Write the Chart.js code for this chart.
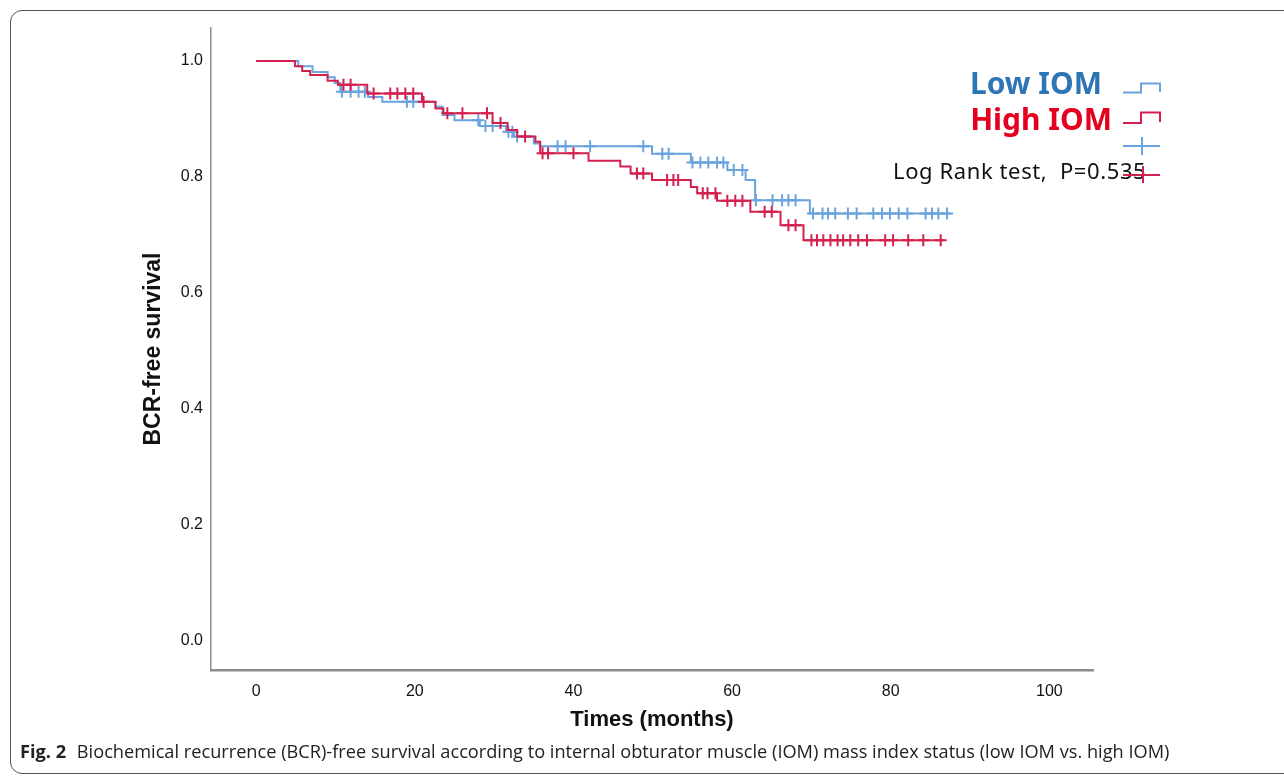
<!DOCTYPE html>
<html>
<head>
<meta charset="utf-8">
<script src="https://cdn.jsdelivr.net/npm/chart.js@4.4.1/dist/chart.umd.min.js"></script>
<style>
  html, body { margin: 0; padding: 0; background: #fff; }
  body { width: 1284px; height: 776px; overflow: hidden; position: relative; font-family: "Noto Sans", sans-serif; }
  #frame { position: absolute; left: 10px; top: 10px; width: 1300px; height: 764px; border: 1.5px solid #555; border-radius: 12px; box-sizing: border-box; }
  #wrap { position: absolute; left: 0; top: 0; width: 1284px; height: 776px; }
  .leg { position: absolute; font-weight: 700; font-size: 30px; line-height: 30px; white-space: nowrap; }
  #lowLab { right: 182px; top: 68px; color: #2e75b6; }
  #highLab { right: 172px; top: 104px; color: #e4001e; }
  #logrank { position: absolute; left: 893px; top: 157px; font-size: 22px; letter-spacing: 0.6px; line-height: 26px; color: #111; white-space: nowrap; }
  #legSym { position: absolute; left: 0; top: 0; }
  #caption { position: absolute; left: 20px; top: 739px; font-family: "Open Sans", sans-serif; font-size: 18.2px; color: #222; white-space: nowrap; }
  #caption b { font-weight: 700; margin-right: 6px; }
</style>
</head>
<body>
<div id="frame"></div>
<div id="wrap"><canvas id="km" width="1284" height="776"></canvas></div>
<div class="leg" id="lowLab">Low IOM</div>
<div class="leg" id="highLab">High IOM</div>
<div id="logrank">Log Rank test,&nbsp; P=0.535</div>
<svg id="legSym" width="1284" height="200">
  <path d="M1123 92.5 H1141 V83.5 H1160 V92" fill="none" stroke="#6aa3de" stroke-width="2"/>
  <path d="M1123 123 H1141 V112.5 H1160 V122" fill="none" stroke="#d4204e" stroke-width="2"/>
  <path d="M1123 146 H1160 M1142 137 V155" fill="none" stroke="#6aa3de" stroke-width="2"/>
  <path d="M1123 175 H1160 M1143 166 V183" fill="none" stroke="#d4204e" stroke-width="2"/>
</svg>
<div id="caption"><b>Fig. 2</b> Biochemical recurrence (BCR)-free survival according to internal obturator muscle (IOM) mass index status (low IOM vs. high IOM)</div>
<script>
// Kaplan–Meier curves, values (months, survival)
const lowTimes = [5.3, 7.1, 9.0, 9.9, 10.6, 14.1, 15.9, 22.6, 23.5, 25.0, 28.2, 31.5, 32.5, 35.0, 35.8, 49.9, 54.8, 59.4, 61.7, 62.9, 69.8];
const lowSurv = [0.991, 0.981, 0.972, 0.962, 0.947, 0.938, 0.930, 0.921, 0.907, 0.898, 0.888, 0.878, 0.870, 0.858, 0.853, 0.840, 0.825, 0.812, 0.795, 0.760, 0.737];
const lowEnd = 87.6;
const lowCensor = [10.8, 11.9, 12.9, 13.7, 19.0, 19.8, 28.0, 28.9, 29.8, 31.8, 32.3, 32.9, 38.0, 39.0, 42.1, 48.8,
  51.2, 52.0, 55.0, 56.0, 57.0, 58.1, 58.9, 60.2, 61.3, 63.0, 65.1, 66.3, 67.1, 68.0,
  70.2, 71.4, 72.1, 73.0, 74.6, 75.7, 77.8, 78.9, 79.9, 81.0, 82.1, 84.4, 85.2, 86.0, 87.1];

const highTimes = [4.9, 5.8, 6.8, 9.0, 10.3, 14.0, 20.9, 22.6, 23.6, 29.8, 31.7, 32.9, 35.2, 35.8, 41.9, 45.9, 47.2, 49.9, 54.8, 55.6, 58.1, 62.3, 66.1, 69.0];
const highSurv = [0.991, 0.983, 0.976, 0.966, 0.959, 0.944, 0.930, 0.918, 0.910, 0.893, 0.881, 0.870, 0.861, 0.841, 0.828, 0.818, 0.806, 0.795, 0.783, 0.772, 0.759, 0.740, 0.717, 0.691];
const highEnd = 86.7;
const highCensor = [11.0, 11.9, 14.8, 16.9, 17.8, 18.8, 19.8, 21.1, 24.1, 26.0, 29.1, 30.8, 33.9, 36.1, 36.8, 40.0,
  48.0, 48.8, 51.8, 52.6, 53.2, 56.3, 56.9, 57.9, 59.4, 60.4, 61.3, 64.1, 65.0, 67.1, 68.0,
  70.0, 70.7, 71.5, 72.4, 73.3, 74.0, 74.9, 75.9, 77.0, 79.3, 80.3, 82.2, 84.1, 86.3];

const xTicks = [0, 20, 40, 60, 80, 100];
const yTicks = [0.0, 0.2, 0.4, 0.6, 0.8, 1.0];

const BLUE = '#6aa3de';
const RED = '#d4204e';
const AXIS = '#8c8c8c';

function curve(times, surv, end) {
  const pts = [{ x: 0, y: 1 }];
  times.forEach((t, i) => pts.push({ x: t, y: surv[i] }));
  pts.push({ x: end, y: surv[surv.length - 1] });
  return pts;
}
function survAt(times, surv, t) {
  let s = 1;
  times.forEach((ti, i) => { if (ti <= t) s = surv[i]; });
  return s;
}
function marks(times, surv, cens) {
  return cens.map((t) => ({ x: t, y: survAt(times, surv, t) }));
}

const tickFont = { family: 'Liberation Sans', size: 16 };

new Chart(document.getElementById('km'), {
  type: 'line',
  data: {
    datasets: [
      { data: curve(highTimes, highSurv, highEnd), stepped: true, borderColor: RED, borderWidth: 2, pointRadius: 0, order: 0 },
      { data: marks(highTimes, highSurv, highCensor), showLine: false, pointStyle: 'cross', pointRadius: 6, borderColor: RED, pointBorderWidth: 2, order: 1 },
      { data: curve(lowTimes, lowSurv, lowEnd), stepped: true, borderColor: BLUE, borderWidth: 2, pointRadius: 0, order: 2 },
      { data: marks(lowTimes, lowSurv, lowCensor), showLine: false, pointStyle: 'cross', pointRadius: 6, borderColor: BLUE, pointBorderWidth: 2, order: 3 },
    ],
  },
  options: {
    responsive: false,
    animation: false,
    layout: { padding: { left: 136, top: 28, right: 191, bottom: 39 } },
    plugins: { legend: { display: false }, tooltip: { enabled: false } },
    scales: {
      x: {
        type: 'linear',
        min: -5.7,
        max: 105.5,
        afterBuildTicks: (s) => { s.ticks = xTicks.map((v) => ({ value: v })); },
        afterFit: (s) => { s.height = 67; },
        grid: { display: false, drawTicks: false },
        border: { display: true, color: AXIS, width: 2.5 },
        ticks: { color: '#111', font: tickFont, padding: 12, maxRotation: 0 },
        title: { display: true, text: 'Times (months)', color: '#111', font: { family: 'Liberation Sans', size: 22, weight: 'bold' } },
      },
      y: {
        min: -0.05,
        max: 1.057,
        afterBuildTicks: (s) => { s.ticks = yTicks.map((v) => ({ value: v })); },
        afterFit: (s) => { s.width = 75; },
        grid: { display: false, drawTicks: false },
        border: { display: true, color: AXIS, width: 1.5 },
        ticks: { color: '#111', font: tickFont, padding: 8, callback: (v) => v.toFixed(1) },
        title: { display: true, text: 'BCR-free survival', color: '#111', font: { family: 'Liberation Sans', size: 23, weight: 'bold' } },
      },
    },
  },
});
</script>
</body>
</html>
